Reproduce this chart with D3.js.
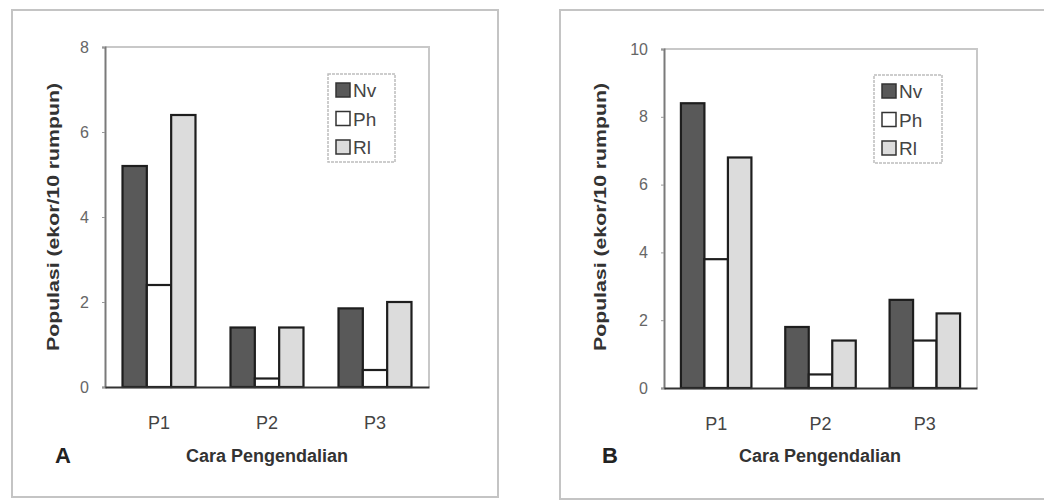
<!DOCTYPE html>
<html><head><meta charset="utf-8">
<script src="https://cdn.jsdelivr.net/npm/d3@7"></script>
<style>body{margin:0;background:#fff;} svg{display:block;}</style>
</head><body>
<svg id="c" width="1044" height="501"></svg>
<script>
const categories = ["P1", "P2", "P3"];
const seriesNames = ["Nv", "Ph", "Rl"];
// Panel A
const nvA = [5.2, 1.4, 1.85];
const phA = [2.4, 0.2, 0.4];
const rlA = [6.4, 1.4, 2.0];
const yTicksA = [0, 2, 4, 6, 8];
// Panel B
const nvB = [8.4, 1.8, 2.6];
const phB = [3.8, 0.4, 1.4];
const rlB = [6.8, 1.4, 2.2];
const yTicksB = [0, 2, 4, 6, 8, 10];
const panelLetters = ["A", "B"];
const xTitle = "Cara Pengendalian";
const yTitle = "Populasi (ekor/10 rumpun)";

const fills = {Nv: "#595959", Ph: "#ffffff", Rl: "#dcdcdc"};
const svg = d3.select("#c");
const FONT = "Liberation Sans, Arial, sans-serif";

function panel(cfg) {
  const g = svg.append("g");
  g.append("rect").attr("x", cfg.frame[0]).attr("y", cfg.frame[1])
    .attr("width", cfg.frame[2] - cfg.frame[0]).attr("height", cfg.frame[3] - cfg.frame[1])
    .attr("fill", "none").attr("stroke", "#c4c4c4").attr("stroke-width", 2);

  const [L, T, R, B] = cfg.plot;
  const y = d3.scaleLinear().domain([0, cfg.ymax]).range([B, T]);
  const x0 = d3.scaleBand().domain(categories).range([L, R]).padding(0);
  const x1 = d3.scaleBand().domain(seriesNames).range([0, x0.bandwidth()]).paddingInner(0).paddingOuter(0.72);

  g.append("path").attr("d", `M${L},${T}H${R}V${B}`).attr("fill", "none")
    .attr("stroke", "#c8c8c8").attr("stroke-width", 2);

  const rows = categories.map((c, i) => ({cat: c, vals: seriesNames.map((s, j) => ({s, v: cfg.data[j][i]}))}));
  const grp = g.selectAll("g.cat").data(rows).join("g").attr("transform", d => `translate(${x0(d.cat)},0)`);
  grp.selectAll("rect").data(d => d.vals).join("rect")
    .attr("x", d => x1(d.s)).attr("width", x1.bandwidth())
    .attr("y", d => y(d.v)).attr("height", d => y(0) - y(d.v))
    .attr("fill", d => fills[d.s]).attr("stroke", "#1e1e1e").attr("stroke-width", 2.2);

  const ya = g.append("g").attr("transform", `translate(${L},0)`)
    .call(d3.axisLeft(y).tickValues(cfg.ticks).tickSize(3).tickPadding(13).tickFormat(d3.format("d")));
  ya.select(".domain").attr("stroke", "#7a7a7a").attr("stroke-width", 2);
  ya.selectAll(".tick line").attr("stroke", "#999");
  ya.selectAll("text").attr("font-family", FONT).attr("font-size", 16).attr("fill", "#666");

  const xa = g.append("g").attr("transform", `translate(0,${B})`)
    .call(d3.axisBottom(x0).tickSize(0).tickPadding(29));
  xa.select(".domain").attr("stroke", "#333").attr("stroke-width", 2);
  xa.selectAll("text").attr("font-family", FONT).attr("font-size", 18).attr("fill", "#444");

  const lg = g.append("g");
  lg.append("rect").attr("x", cfg.legend[0]).attr("y", cfg.legend[1])
    .attr("width", cfg.legend[2] - cfg.legend[0]).attr("height", cfg.legend[3] - cfg.legend[1])
    .attr("fill", "#fff").attr("stroke", "#bdbdbd").attr("stroke-width", 1.5).attr("stroke-dasharray", "3,1");
  const items = lg.selectAll("g.it").data(seriesNames).join("g")
    .attr("transform", (d, i) => `translate(${cfg.legend[0] + 8},${cfg.legend[1] + 16 + i * 28.5})`);
  items.append("rect").attr("x", 0).attr("y", -7).attr("width", 14).attr("height", 14)
    .attr("fill", d => fills[d]).attr("stroke", "#333").attr("stroke-width", 1.5);
  items.append("text").attr("x", 17).attr("y", 7).text(d => d)
    .attr("font-family", FONT).attr("font-size", 19).attr("fill", "#444");

  g.append("text").attr("x", cfg.xTitleX).attr("y", 462).attr("text-anchor", "middle")
    .attr("font-family", FONT).attr("font-weight", "bold").attr("font-size", 18).attr("fill", "#333")
    .text(xTitle);
  g.append("text").attr("transform", `translate(${cfg.yTitleX},217) rotate(-90)`).attr("text-anchor", "middle")
    .attr("dy", "0.35em")
    .attr("font-family", FONT).attr("font-weight", "bold").attr("font-size", 16).attr("fill", "#333")
    .attr("textLength", 268).attr("lengthAdjust", "spacingAndGlyphs")
    .text(yTitle);
  g.append("text").attr("x", cfg.letterX).attr("y", 463).attr("text-anchor", "middle")
    .attr("font-family", FONT).attr("font-weight", "bold").attr("font-size", 22).attr("fill", "#222")
    .text(cfg.letter);
}

panel({frame: [12, 10, 498, 497], plot: [105, 47, 429, 387], ymax: 8, ticks: yTicksA,
  data: [nvA, phA, rlA], legend: [328, 74, 395, 162], xTitleX: 267, yTitleX: 53, letterX: 63, letter: panelLetters[0]});
panel({frame: [560, 10, 1052, 499], plot: [664, 49, 977, 388], ymax: 10, ticks: yTicksB,
  data: [nvB, phB, rlB], legend: [874, 75, 942, 163], xTitleX: 820, yTitleX: 600, letterX: 610, letter: panelLetters[1]});
</script>
</body></html>
